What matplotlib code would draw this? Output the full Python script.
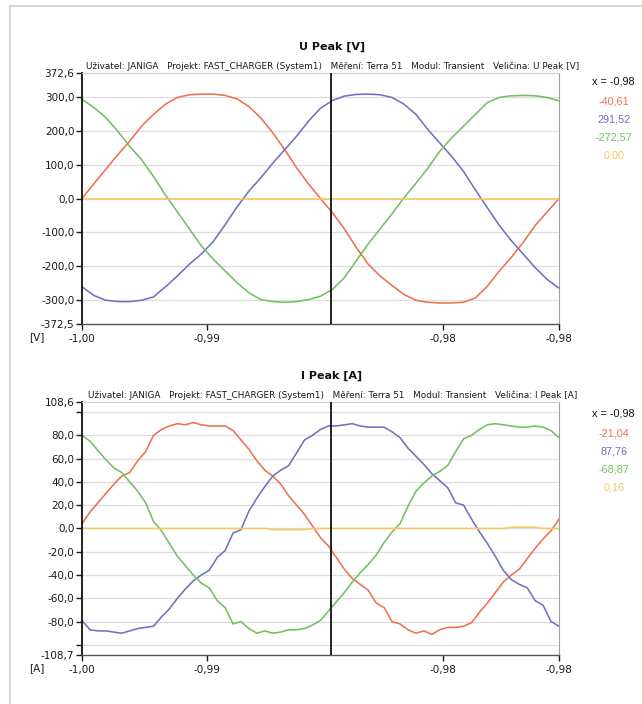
import numpy as np
import matplotlib.pyplot as plt

# === Data: U Peak [V], 41 samples over one period ===
u_red = [0, 44, 87, 130, 170, 215, 250, 280, 300, 308, 310, 310, 306, 296, 273, 239, 195, 145, 91, 43,
         0, -42, -90, -145, -195, -230, -258, -285, -302, -308, -310, -310, -308, -295, -260, -215, -175, -130, -80, -40, 0]
u_blue = [-262, -288, -302, -306, -306, -302, -292, -262, -230, -195, -165, -128, -78, -25, 22, 62, 105, 145, 185, 230,
          268, 291, 304, 309, 310, 308, 300, 280, 250, 205, 165, 125, 80, 25, -28, -80, -125, -165, -205, -240, -266]
u_green = [295, 270, 240, 200, 155, 115, 65, 10, -40, -90, -140, -180, -215, -250, -280, -300, -306, -308, -306, -300,
           -290, -270, -235, -185, -135, -90, -45, 2, 45, 90, 140, 180, 215, 250, 285, 300, 305, 306, 305, 300, 290]
u_yellow = [0] * 41

# === Data: I Peak [A], 61 samples over one period ===
i_red = [4, 14, 22, 30, 38, 45, 48, 58, 66, 80, 85, 88, 90, 89, 91, 89, 88, 88, 88, 84,
         76, 68, 58, 50, 45, 38, 28, 20, 12, 2, -8, -15, -25, -35, -43, -48, -53, -64, -68, -80,
         -82, -87, -90, -88, -91, -87, -85, -85, -84, -81, -72, -64, -55, -46, -40, -35, -26, -17, -9, -2, 8]
i_blue = [-79, -87, -88, -88, -89, -90, -88, -86, -85, -84, -76, -69, -60, -52, -45, -40, -36, -25, -19, -4,
          -1, 15, 26, 36, 45, 50, 54, 65, 76, 80, 85, 88, 88, 89, 90, 88, 87, 87, 87, 83,
          78, 69, 62, 55, 47, 41, 35, 22, 20, 8, -3, -13, -24, -36, -44, -48, -51, -62, -66, -80, -84]
i_green = [80, 75, 67, 59, 52, 48, 40, 32, 22, 6, -2, -13, -24, -32, -40, -47, -51, -62, -68, -82,
           -80, -86, -90, -88, -90, -89, -87, -87, -86, -83, -79, -71, -63, -55, -46, -38, -31, -23, -12, -3,
           4, 19, 32, 39, 45, 49, 54, 66, 77, 80, 85, 89, 90, 89, 88, 87, 87, 88, 87, 84, 78]
i_yellow = [0] * 24 + [-1, -1, -1, -1, -1] + [0] * 25 + [1, 1, 1, 1] + [0, 0, 0]

# === Axis / cursor info ===
x_ticks = [-1.000, -0.99476, -0.98486, -0.980]
cursor_t = -0.98956
u_yticks = [372.6, 300, 200, 100, 0, -100, -200, -300, -372.5]
u_grid = [300, 200, 100, 0, -100, -200, -300]
i_yticks = [108.6, 80, 60, 40, 20, 0, -20, -40, -60, -80, -108.7]
i_minor = [100, -100]
i_grid = [100, 80, 60, 40, 20, 0, -20, -40, -60, -80, -100]
u_readout = ['-40,61', '291,52', '-272,57', '0,00']
i_readout = ['-21,04', '87,76', '-68,87', '0,16']

colors = ['#F0704E', '#7070C4', '#72C062', '#F8C560']
readout_font = ['Liberation Sans', 'DejaVu Sans']

W, H = 642, 704
fig = plt.figure(figsize=(W / 100, H / 100), dpi=100)
plt.rcParams['font.family'] = 'DejaVu Sans'


def fx(x):
    return x / W


def fy(y):
    return 1 - y / H


def fmt(v):
    return f'{v:.1f}'.replace('.', ',')


def draw_panel(top, bottom, series, yticks, minor, grid, title, subtitle, unit, readout, read_y):
    ax = fig.add_axes([fx(82), fy(bottom), fx(559) - fx(82), (bottom - top) / H])
    t = np.linspace(-1.0, -0.98, len(series[0]))
    for g in grid:
        ax.axhline(g, color='#dedede', lw=0.9, zorder=0)
    for vals, c in zip(series, colors):
        ax.plot(t, vals, color=c, lw=1.15, zorder=2)
    ax.axvline(cursor_t, color='#111111', lw=1.3, zorder=3)

    ax.set_xlim(-1.0, -0.98)
    ax.set_ylim(yticks[-1], yticks[0])
    ax.set_yticks(yticks)
    ax.set_yticklabels([fmt(v) for v in yticks])
    if minor:
        ax.set_yticks(minor, minor=True)
    ax.set_xticks(x_ticks)
    ax.set_xticklabels([f'{v:.2f}'.replace('.', ',') for v in x_ticks])
    ax.tick_params(which='both', direction='out', length=4, width=1, colors='#1a1a1a',
                   labelsize=7.5, pad=1.5)
    ax.tick_params(axis='x', pad=3)

    ax.spines['left'].set_color('#111111')
    ax.spines['left'].set_linewidth(1.3)
    ax.spines['bottom'].set_color('#555555')
    ax.spines['bottom'].set_linewidth(1.0)
    ax.spines['top'].set_color('#d0d0d0')
    ax.spines['right'].set_color('#a0a0a0')

    fig.text(fx(332), fy(top - 26), title, ha='center', va='center', fontsize=8, fontweight='bold', color='#111111')
    fig.text(fx(333), fy(top - 7), subtitle, ha='center', va='center', fontsize=6.4, color='#1a1a1a')
    fig.text(fx(37), fy(bottom + 13), unit, ha='center', va='center', fontsize=7.5, color='#1a1a1a')

    fig.text(fx(613), fy(read_y[0]), 'x = -0,98', ha='center', va='center', fontsize=7.8,
             family=readout_font, color='#111111')
    for k, (txt, c) in enumerate(zip(readout, colors)):
        fig.text(fx(614), fy(read_y[k + 1]), txt, ha='center', va='center', fontsize=7.8,
                 family=readout_font, color=c)
    return ax


sub = 'Uživatel: JANIGA   Projekt: FAST_CHARGER (System1)   Měření: Terra 51   Modul: Transient   Veličina: {}'

# === U Peak panel ===
draw_panel(73, 324, [u_red, u_blue, u_green, u_yellow], u_yticks, None, u_grid,
           'U Peak [V]', sub.format('U Peak [V]'), '[V]', u_readout, [81, 102, 120, 138, 156])

# === I Peak panel ===
draw_panel(402, 655, [i_red, i_blue, i_green, i_yellow], i_yticks, i_minor, i_grid,
           'I Peak [A]', sub.format('I Peak [A]'), '[A]', i_readout, [414, 433, 452, 470, 488])

# === Outer frame ===
fig.add_artist(plt.Line2D([fx(10), fx(10)], [fy(6), 0], color='#d0d0d0', lw=1.2))
fig.add_artist(plt.Line2D([fx(10), 1], [fy(6), fy(6)], color='#d0d0d0', lw=1.2))

fig.savefig('out.png', dpi=100)
